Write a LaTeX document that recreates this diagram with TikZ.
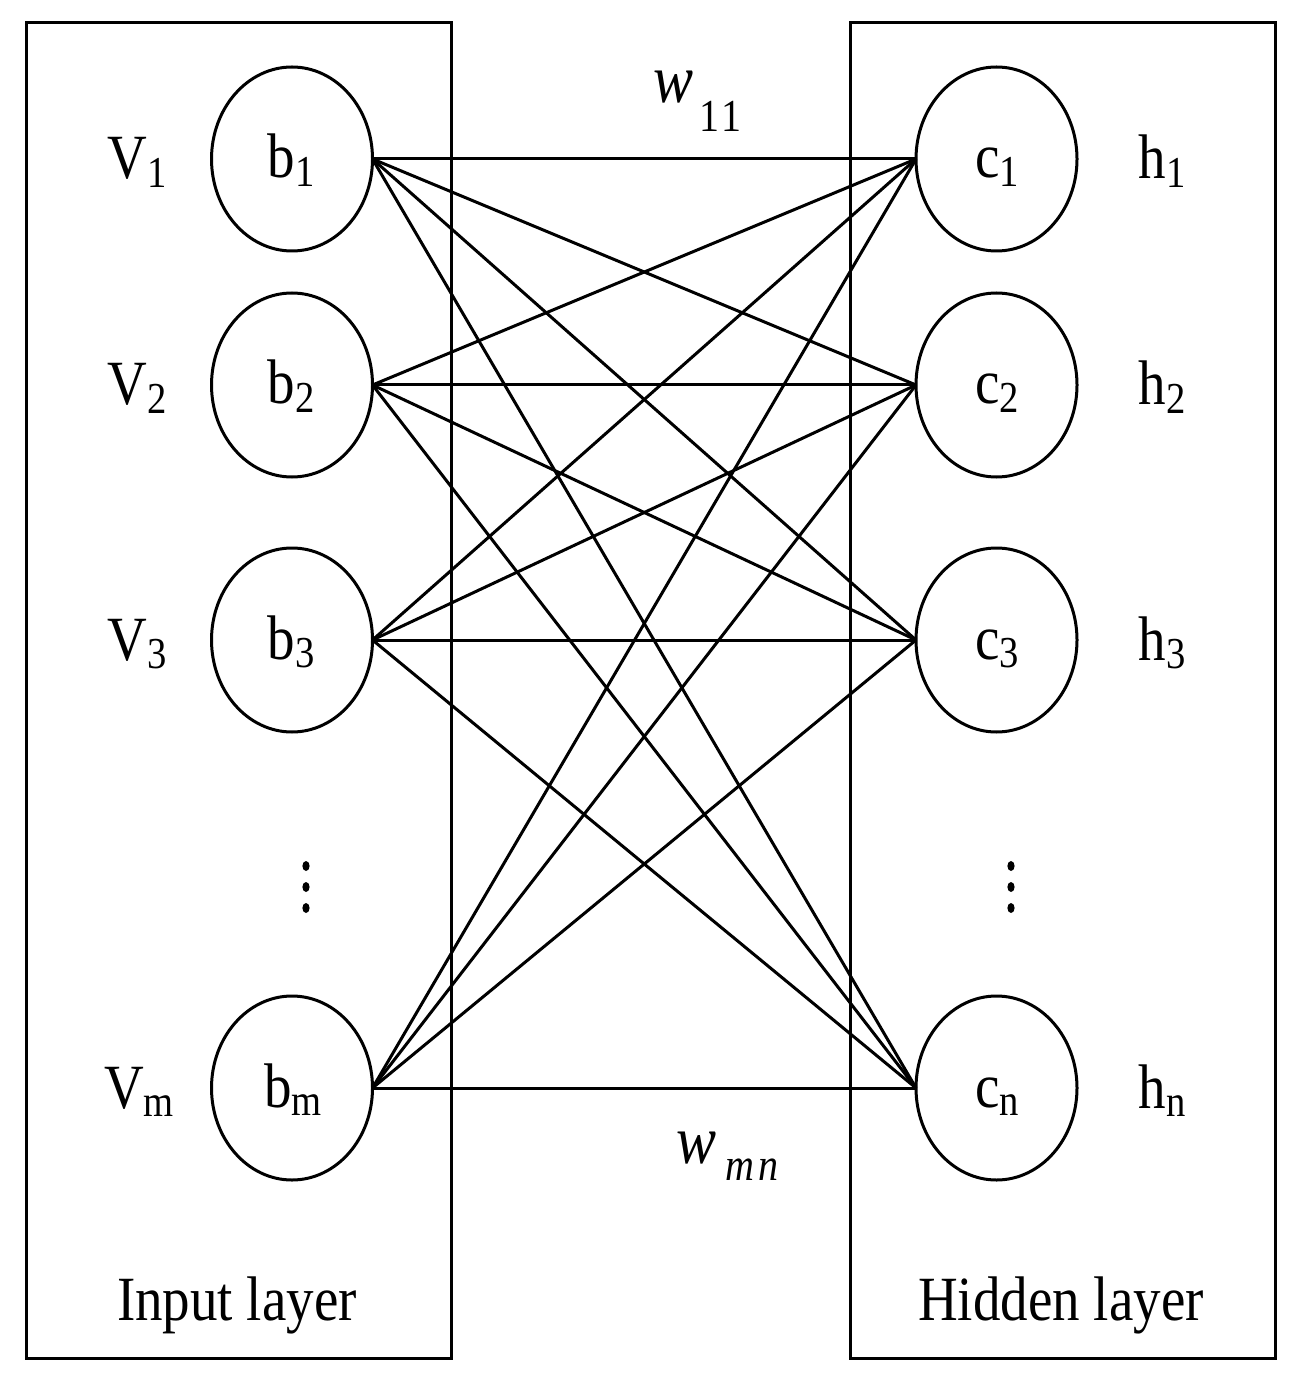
\documentclass[tikz,border=0pt]{standalone}
\usepackage{fontspec}
\setmainfont{Liberation Serif}
\usetikzlibrary{shapes.geometric}
\newcommand{\sfx}[1]{\scalebox{1}[1.145]{#1}}
\newcommand{\lowsub}[1]{\raisebox{-3.5pt}{\fontsize{19.3}{22}\selectfont #1}}
\begin{document}
\begin{tikzpicture}[x=0.5pt,y=-0.5pt, line width=1.5pt,
  unit/.style={ellipse, draw, line width=1.5pt, minimum width=80.5pt, minimum height=92pt, inner sep=0pt, outer sep=0pt},
  lbl/.style={anchor=base, inner sep=0pt, font=\fontsize{27.5}{32}\selectfont},
  wlbl/.style={anchor=base west, inner sep=0pt, font=\fontsize{30}{34}\selectfont\itshape},
  wsub/.style={anchor=base west, inner sep=0pt, font=\fontsize{20}{23}\selectfont},
  layerbox/.style={draw, line width=1.5pt, minimum width=212.5pt, minimum height=667.5pt, inner sep=0pt, outer sep=0pt},
  conn/.style={line width=1.5pt},
  dotm/.style={ellipse, fill=black, minimum width=3.6pt, minimum height=5pt, inner sep=0pt}
]
\useasboundingbox (0,0) rectangle (1299,1379);
% layer boxes
\node[layerbox] (inbox) at (238.5,690.5) {};
\node[layerbox] (hidbox) at (1063,690.5) {};
% units
\node[unit] (b1) at (292,159) {};
\node[unit] (b2) at (292,385) {};
\node[unit] (b3) at (292,640) {};
\node[unit] (bm) at (292,1088) {};
\node[unit] (c1) at (996.5,159) {};
\node[unit] (c2) at (996.5,385) {};
\node[unit] (c3) at (996.5,640) {};
\node[unit] (cn) at (996.5,1088) {};
% connections
\foreach \i in {b1,b2,b3,bm}
  \foreach \j in {c1,c2,c3,cn}
    \draw[conn] (\i.east) -- (\j.west);
% unit labels
\node[lbl] (tb1) at (291,178) {\sfx{b\lowsub{1}}};
\node[lbl] (tb2) at (291,404) {\sfx{b\lowsub{2}}};
\node[lbl] (tb3) at (291,659) {\sfx{b\lowsub{3}}};
\node[lbl] (tbm) at (293,1107) {\sfx{b\lowsub{m}}};
\node[lbl] (tc1) at (997,178) {\sfx{c\lowsub{1}}};
\node[lbl] (tc2) at (997,404) {\sfx{c\lowsub{2}}};
\node[lbl] (tc3) at (997,659) {\sfx{c\lowsub{3}}};
\node[lbl] (tcn) at (997,1107) {\sfx{c\lowsub{n}}};
% side labels
\node[lbl] (v1) at (137,179) {\sfx{V\lowsub{1}}};
\node[lbl] (v2) at (137,405) {\sfx{V\lowsub{2}}};
\node[lbl] (v3) at (137,660) {\sfx{V\lowsub{3}}};
\node[lbl] (vm) at (139,1108) {\sfx{V\lowsub{m}}};
\node[lbl] (h1) at (1162,179) {\sfx{h\lowsub{1}}};
\node[lbl] (h2) at (1162,405) {\sfx{h\lowsub{2}}};
\node[lbl] (h3) at (1162,660) {\sfx{h\lowsub{3}}};
\node[lbl] (hn) at (1162,1108) {\sfx{h\lowsub{n}}};
% layer titles
\node[lbl] (intitle) at (237,1320) {\sfx{Input layer}};
\node[lbl] (hidtitle) at (1061,1320) {\sfx{Hidden layer}};
% weights
\node[wlbl] (w11) at (652,103) {\sfx{w}};
\node[wsub] (w11s) at (698,132) {\sfx{1\hspace{1pt}1}};
\node[wlbl] (wmn) at (675,1163) {\sfx{w}};
\node[wsub] (wmns) at (724,1180) {\sfx{\itshape m\hspace{2pt}n}};
% vertical dots
\node[dotm] (ld1) at (306,866) {};
\node[dotm] (ld2) at (306,887) {};
\node[dotm] (ld3) at (306,908) {};
\node[dotm] (rd1) at (1011,866) {};
\node[dotm] (rd2) at (1011,887) {};
\node[dotm] (rd3) at (1011,908) {};
\end{tikzpicture}
\end{document}
